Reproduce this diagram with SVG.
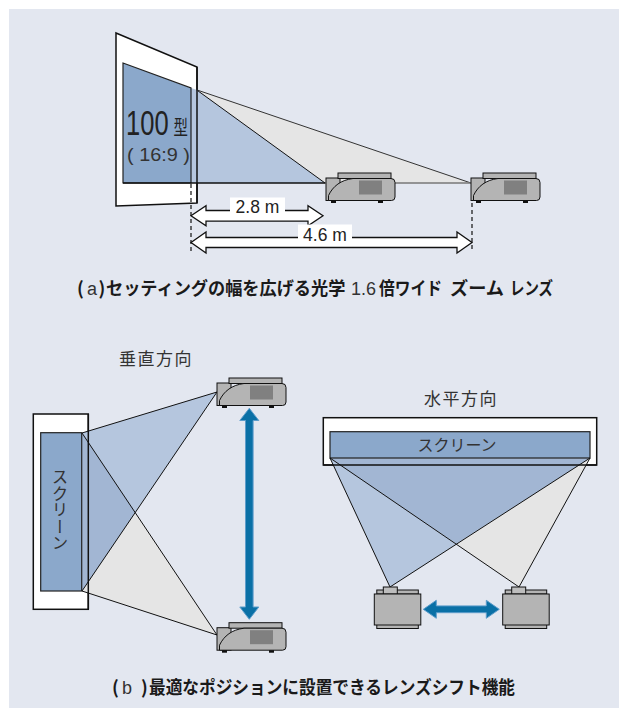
<svg xmlns="http://www.w3.org/2000/svg" width="619" height="708" viewBox="0 0 619 708">
<defs>
<style>
.scr{fill:#fff;stroke:#111;stroke-width:1.5}
.scrin{fill:#8ba8cb;stroke:#222;stroke-width:1.2}
.edge{fill:none;stroke:#111;stroke-width:1.5}
.beamB{fill:#b5c6de}
.beamG{fill:#e5e5e5}
.beamO{fill:#a2b6d3}
.ray{fill:none;stroke:#111;stroke-width:1}
.pj{fill:#b4b4b4;stroke:#111;stroke-width:1}
.pjin{fill:#808080}
.foot{fill:#111}
.dim{fill:#fff;stroke:#111;stroke-width:1.3}
.dash{fill:none;stroke:#111;stroke-width:1.2;stroke-dasharray:4 3}
.lbl{font-family:"Liberation Sans",Arial,sans-serif;fill:#222}
.jp{font-family:"Noto Sans CJK JP","Noto Sans",sans-serif;fill:#333}
.cap{font-family:"Noto Sans CJK JP",sans-serif;font-weight:bold;fill:#1a1a1a;font-size:18px}
.capn{font-family:"Liberation Sans",Arial,sans-serif;font-weight:normal;fill:#333;font-size:18px}
.shift{fill:#0a70a6;stroke:#5d9dcb;stroke-width:1}
</style>
<!-- projector, side view; origin = top-left of the top rim -->
<g id="proj-side">
 <rect class="pj" x="0" y="5" width="14" height="22.5"/>
 <rect class="pj" x="12" y="0" width="53" height="5.5"/>
 <path class="pj" d="M2.5,27.5 L2.5,22.5 C7,13 15,7 27,5.5 L65,5.5 Q69,5.5 69,9.5 L69,24 Q69,27.5 65.5,27.5 Z"/>
 <rect class="pjin" x="33" y="7.5" width="23" height="14"/>
 <rect class="foot" x="5" y="27.5" width="5" height="2.5"/>
 <rect class="foot" x="52" y="27.5" width="5" height="2.5"/>
</g>
<!-- projector, rear view; origin = top-left of the body -->
<g id="proj-rear">
 <rect class="pj" x="2.5" y="-4" width="41.5" height="4"/>
 <rect class="pj" x="9" y="-7" width="14" height="7" style="fill:#bdbdbd"/>
 <rect class="pj" x="2.5" y="30" width="41.5" height="4.5"/>
 <rect class="pj" x="0" y="0" width="46.5" height="31"/>
</g>
</defs>

<rect x="0" y="0" width="619" height="708" fill="#fff"/>
<rect x="9" y="9" width="610" height="699" fill="#e3e7f0"/>

<!-- (a) zoom lens: throw distance -->
<g id="zoom-screen">
 <polygon class="scr" points="116,33 197,67 197,203 116,206"/>
</g>
<g id="zoom-beams">
 <polygon class="beamG" points="196.5,89.8 471,183 325,183"/>
 <polygon class="beamB" points="191,88 196.5,89.8 325,183 191,183"/>
 <line class="edge" x1="197" y1="67" x2="197" y2="203"/>
 <polygon class="scrin" points="123,63 191,88 191,183 123,183"/>
 <line class="ray" x1="196.5" y1="89.8" x2="325" y2="183"/>
 <line class="ray" x1="196.5" y1="89.8" x2="471" y2="183" style="stroke:#333"/>
 <line class="ray" x1="123" y1="183" x2="325" y2="183" style="stroke-width:1.4"/>
 <line class="ray" x1="325" y1="183" x2="471" y2="183" style="stroke:#777;stroke-width:1.4"/>
</g>
<g id="zoom-screen-label">
 <!-- narrow lettering: horizontally condensed glyphs -->
 <text class="lbl" transform="translate(126,135) scale(0.71,1)" font-size="36">100</text>
 <text class="jp" transform="translate(173.5,135) scale(0.72,1)" font-size="20" style="fill:#222">型</text>
 <text class="lbl" x="127" y="161" font-size="17.5" textLength="63" lengthAdjust="spacingAndGlyphs" style="fill:#333">( 16:9 )</text>
</g>
<g id="proj-near"><use href="#proj-side" x="326" y="173"/></g>
<g id="proj-far"><use href="#proj-side" x="471" y="173"/></g>

<g id="dimensions">
 <line class="dash" x1="191" y1="184" x2="191" y2="252"/>
 <line class="dash" x1="472" y1="203" x2="472" y2="252"/>
 <path class="dim" d="M191,215.8 L206,205.8 L206,210.5 L308,210.5 L308,205.8 L323,215.8 L308,225.8 L308,221.1 L206,221.1 L206,225.8 Z"/>
 <path class="dim" d="M191,242.5 L206,232 L206,237.5 L457,237.5 L457,232 L472,242.5 L457,253 L457,247.5 L206,247.5 L206,253 Z"/>
 <rect x="230" y="197.5" width="55" height="16" fill="#fff"/>
 <text class="lbl" x="257.5" y="212.5" font-size="17.5" text-anchor="middle">2.8 m</text>
 <rect x="298" y="224.5" width="54" height="17" fill="#fff"/>
 <text class="lbl" x="325" y="240.5" font-size="17.5" text-anchor="middle">4.6 m</text>
</g>

<g id="caption-a">
 <text class="cap" x="77" y="295">(<tspan class="capn" x="87">a</tspan><tspan x="98.5">)</tspan></text>
 <text class="cap" transform="translate(106,295) scale(0.955,1)">セッティングの幅を広げる光学</text>
 <text class="capn" x="351" y="295">1.6</text>
 <text class="cap" x="379" y="295" textLength="63" lengthAdjust="spacingAndGlyphs">倍ワイド</text>
 <text class="cap" x="450" y="295" textLength="54" lengthAdjust="spacingAndGlyphs">ズーム</text>
 <text class="cap" x="510" y="295" textLength="43" lengthAdjust="spacingAndGlyphs">レンズ</text>
</g>

<!-- (b) lens shift: vertical -->
<text class="jp" x="156" y="365" font-size="17" text-anchor="middle" letter-spacing="1.5">垂直方向</text>
<g id="vshift-screen">
 <rect class="scr" x="33.3" y="414" width="55" height="195.3"/>
</g>
<g id="vshift-beams">
 <polygon class="beamG" points="217,635 82,433 82,591"/>
 <polygon class="beamB" points="217,392 82,433 82,591"/>
 <polygon class="beamO" points="82,433 135.2,512.6 82,591"/>
 <line class="edge" x1="88.3" y1="414" x2="88.3" y2="609.3"/>
 <rect class="scrin" x="40.7" y="432.7" width="41" height="158.3"/>
 <line class="ray" x1="217" y1="392" x2="82" y2="433"/>
 <line class="ray" x1="217" y1="392" x2="82" y2="591"/>
 <line class="ray" x1="217" y1="635" x2="82" y2="433"/>
 <line class="ray" x1="217" y1="635" x2="82" y2="591"/>
</g>
<text class="jp" x="60" y="510" font-size="16.5" text-anchor="middle" style="writing-mode:vertical-rl">スクリーン</text>
<g id="vproj-top"><use href="#proj-side" x="217" y="378"/></g>
<g id="vproj-bottom"><use href="#proj-side" x="217" y="622.7"/></g>

<!-- (b) lens shift: horizontal -->
<text class="jp" x="461" y="405" font-size="17" text-anchor="middle" letter-spacing="1.5">水平方向</text>
<g id="hshift-screen">
 <rect class="scr" x="323.3" y="417.7" width="273.4" height="47.3"/>
</g>
<g id="hshift-beams">
 <polygon class="beamG" points="519,587 330,458 590,458"/>
 <polygon class="beamB" points="390,587 330,458 590,458"/>
 <polygon class="beamO" points="330,458 590,458 456.3,543.6"/>
 <line class="edge" x1="323.3" y1="465" x2="596.7" y2="465"/>
 <rect class="scrin" x="330" y="431.7" width="260" height="26.3"/>
 <line class="ray" x1="390" y1="587" x2="330" y2="458"/>
 <line class="ray" x1="390" y1="587" x2="590" y2="458"/>
 <line class="ray" x1="519" y1="587" x2="330" y2="458"/>
 <line class="ray" x1="519" y1="587" x2="590" y2="458"/>
</g>
<text class="jp" x="457" y="451" font-size="16" text-anchor="middle">スクリーン</text>
<g id="hproj-left"><use href="#proj-rear" x="374.3" y="594"/></g>
<g id="hproj-right"><use href="#proj-rear" x="502.7" y="594"/></g>

<g id="connectors">
 <path class="shift" d="M249.3,408.3 L258.8,420.5 L253.1,420.5 L253.1,607 L258.8,607 L249.3,619.3 L239.8,607 L245.5,607 L245.5,420.5 L239.8,420.5 Z"/>
 <path class="shift" d="M423.3,609.3 L436.3,600.3 L436.3,605.9 L486.3,605.9 L486.3,600.3 L499.3,609.3 L486.3,618.3 L486.3,612.7 L436.3,612.7 L436.3,618.3 Z"/>
</g>

<g id="caption-b">
 <text class="cap" x="112" y="694">(<tspan class="capn" x="122">b</tspan><tspan x="141">)</tspan></text>
 <text class="cap" x="149" y="694" textLength="366" lengthAdjust="spacingAndGlyphs">最適なポジションに設置できるレンズシフト機能</text>
</g>
</svg>
